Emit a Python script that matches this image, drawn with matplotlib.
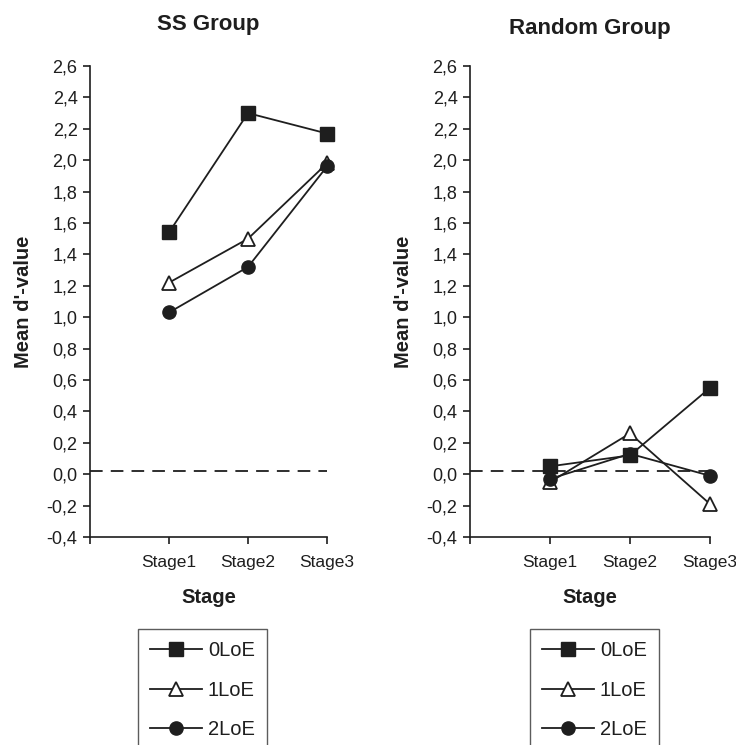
import matplotlib
matplotlib.use("Agg")
import matplotlib.pyplot as plt

plt.rcParams['font.family'] = ['Liberation Sans', 'DejaVu Sans']

stages = ["Stage1", "Stage2", "Stage3"]
series_names = ["0LoE", "1LoE", "2LoE"]

ss_0loe = [1.54, 2.30, 2.17]
ss_1loe = [1.22, 1.50, 1.98]
ss_2loe = [1.03, 1.32, 1.96]

rnd_0loe = [0.05, 0.12, 0.55]
rnd_1loe = [-0.05, 0.26, -0.19]
rnd_2loe = [-0.03, 0.13, -0.01]

chance_level = 0.02
y_ticks = [-0.4, -0.2, 0.0, 0.2, 0.4, 0.6, 0.8, 1.0, 1.2, 1.4, 1.6, 1.8, 2.0, 2.2, 2.4, 2.6]
y_tick_labels = ["-0,4", "-0,2", "0,0", "0,2", "0,4", "0,6", "0,8", "1,0",
                 "1,2", "1,4", "1,6", "1,8", "2,0", "2,2", "2,4", "2,6"]

titles = ["SS Group", "Random Group"]

C = "#1e1e1e"
W, H = 736, 745
fig = plt.figure(figsize=(W / 100, H / 100), dpi=100)

styles = [
    dict(marker="s", markersize=9.5, markerfacecolor=C, markeredgecolor=C),
    dict(marker="^", markersize=10.5, markerfacecolor="white", markeredgecolor=C, markeredgewidth=1.3),
    dict(marker="o", markersize=9.5, markerfacecolor=C, markeredgecolor=C),
]

axes_px = [(90, 327), (470, 710)]
top_px, bot_px = 66, 537
groups = [(ss_0loe, ss_1loe, ss_2loe), (rnd_0loe, rnd_1loe, rnd_2loe)]
title_pads = [26, 23]
legend_left_px = [138, 530]

xpos = [1, 2, 3]
for i, (x0, x1) in enumerate(axes_px):
    ax = fig.add_axes([x0 / W, 1 - bot_px / H, (x1 - x0) / W, (bot_px - top_px) / H])
    handles = []
    for vals, st in zip(groups[i], styles):
        h, = ax.plot(xpos, vals, color=C, lw=1.3, zorder=3, clip_on=False, **st)
        handles.append(h)
    ax.axhline(chance_level, color=C, lw=1.3, ls=(0, (7, 4.5)), zorder=2)
    ax.set_xlim(0, 3)
    ax.set_ylim(-0.4, 2.6)
    ax.set_yticks(y_ticks)
    ax.set_yticklabels(y_tick_labels)
    ax.set_xticks([0] + xpos)
    ax.set_xticklabels([""] + stages)
    for s in ["top", "right"]:
        ax.spines[s].set_visible(False)
    for s in ["left", "bottom"]:
        ax.spines[s].set_color(C)
        ax.spines[s].set_linewidth(1.2)
    ax.tick_params(direction="out", length=5, width=1.2, color=C, labelcolor=C,
                   labelsize=13, pad=4)
    ax.tick_params(axis="x", pad=8, labelsize=12.5)
    ax.set_title(titles[i], fontsize=16, fontweight="bold", color=C, pad=title_pads[i])
    ax.set_xlabel("Stage", fontsize=14.5, fontweight="bold", color=C, labelpad=13)
    ax.set_ylabel("Mean d'-value", fontsize=14.5, fontweight="bold", color=C, labelpad=10)

    leg = fig.legend(handles, series_names, loc="upper left",
                     bbox_to_anchor=(legend_left_px[i] / W, 1 - 629 / H),
                     bbox_transform=fig.transFigure, borderaxespad=0,
                     fancybox=False, frameon=True, fontsize=14.5,
                     handlelength=2.55, handletextpad=0.3, labelspacing=1.0,
                     borderpad=0.62, labelcolor=C)
    leg.get_frame().set_edgecolor("#333333")
    leg.get_frame().set_linewidth(1.0)

fig.savefig("out.png", dpi=100)
